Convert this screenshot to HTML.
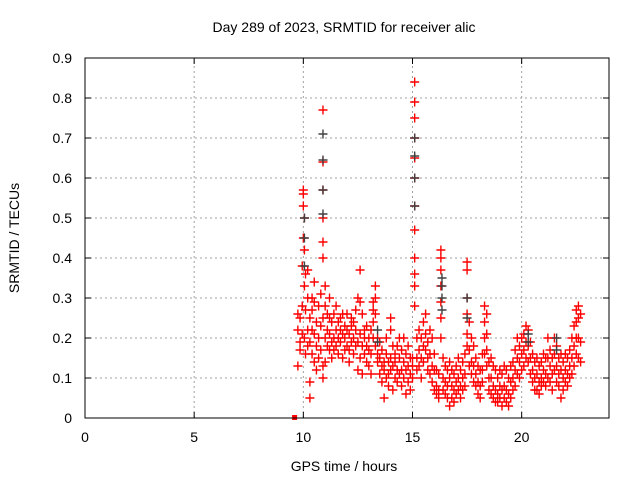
<!DOCTYPE html>
<html><head><meta charset="utf-8"><style>
body{margin:0;background:#fff}
svg text{font-family:"Liberation Sans",sans-serif;font-size:14px;fill:#000}
</style></head><body>
<svg id="chart" width="640" height="480" xmlns="http://www.w3.org/2000/svg">
<rect width="640" height="480" fill="#fff"/>
<text x="344" y="32" text-anchor="middle">Day 289 of 2023, SRMTID for receiver alic</text>
<text x="344" y="471" text-anchor="middle">GPS time / hours</text>
<text transform="translate(19,238) rotate(-90)" text-anchor="middle">SRMTID / TECUs</text>
<g id="grid"></g>
<g id="axes"></g>
<g id="points"></g>
<rect x="85" y="58" width="524" height="360" fill="none" stroke="#000" stroke-width="1"/>
</svg>
<script>
const xTicks=[0,5,10,15,20];
const yTicks=[0,0.1,0.2,0.3,0.4,0.5,0.6,0.7,0.8,0.9];
const yTickLabels=["0","0.1","0.2","0.3","0.4","0.5","0.6","0.7","0.8","0.9"];
const redTimes=[9.75,9.85,9.95,10.0,10.05,10.1,10.2,10.3,10.4,10.5,10.6,10.7,10.8,10.9,11.0,11.1,11.2,11.3,11.4,11.5,11.6,11.7,11.8,11.9,12.0,12.1,12.2,12.3,12.4,12.5,12.6,12.7,12.8,12.9,13.0,13.1,13.2,13.3,13.4,13.5,13.6,13.7,13.8,13.9,14.0,14.1,14.2,14.3,14.4,14.5,14.6,14.7,14.8,14.9,15.0,15.1,15.2,15.3,15.4,15.5,15.6,15.7,15.8,15.9,16.0,16.1,16.2,16.3,16.4,16.5,16.6,16.7,16.8,16.9,17.0,17.1,17.2,17.3,17.4,17.5,17.6,17.7,17.8,17.9,18.0,18.1,18.2,18.3,18.4,18.5,18.6,18.7,18.8,18.9,19.0,19.1,19.2,19.3,19.4,19.5,19.6,19.7,19.8,19.9,20.0,20.1,20.2,20.3,20.4,20.5,20.6,20.7,20.8,20.9,21.0,21.1,21.2,21.3,21.4,21.5,21.6,21.7,21.8,21.9,22.0,22.1,22.2,22.3,22.4,22.5,22.6,22.7];
const redValues=[[0.13,0.22,0.26],[0.17,0.25,0.19],[0.28,0.38,0.21],[0.45,0.53,0.57,0.56],[0.5,0.42,0.33,0.2],[0.36,0.27,0.16],[0.3,0.22,0.18,0.37],[0.25,0.19,0.09,0.05],[0.3,0.22,0.16,0.27],[0.21,0.14,0.29,0.34],[0.18,0.24,0.12],[0.2,0.28,0.15],[0.23,0.17,0.31],[0.77,0.64,0.57,0.5,0.44,0.4,0.25,0.13,0.1],[0.2,0.28,0.14,0.33],[0.22,0.18,0.26],[0.3,0.17,0.21,0.25],[0.19,0.24,0.15],[0.26,0.2,0.17],[0.28,0.22,0.18],[0.24,0.16,0.2],[0.25,0.19,0.22],[0.21,0.15,0.26],[0.2,0.23,0.17],[0.26,0.18,0.22],[0.17,0.21,0.14],[0.25,0.19,0.23],[0.2,0.16,0.24],[0.22,0.27,0.18],[0.3,0.19,0.12],[0.37,0.29,0.21,0.15],[0.26,0.18,0.11],[0.22,0.16,0.2],[0.18,0.14,0.23],[0.2,0.13,0.17],[0.16,0.11,0.22],[0.27,0.29,0.24,0.2],[0.33,0.3,0.26,0.18],[0.2,0.14,0.16],[0.15,0.11,0.19],[0.13,0.09,0.17],[0.14,0.05,0.12],[0.2,0.16,0.1],[0.14,0.11,0.08],[0.25,0.22,0.15,0.12],[0.18,0.13,0.07],[0.14,0.1,0.16],[0.18,0.12,0.09],[0.2,0.15,0.11],[0.17,0.12,0.08],[0.2,0.14,0.1],[0.16,0.12,0.06],[0.18,0.13,0.09],[0.15,0.11,0.07],[0.15,0.1,0.13],[0.84,0.79,0.75,0.7,0.65,0.6,0.53,0.47,0.4,0.36,0.33,0.28],[0.2,0.15,0.12],[0.22,0.17,0.13],[0.2,0.15,0.1],[0.24,0.18,0.14],[0.26,0.21,0.17],[0.19,0.15,0.12],[0.22,0.16,0.11],[0.2,0.13,0.09],[0.16,0.12,0.07],[0.12,0.08,0.06],[0.11,0.07,0.05],[0.42,0.4,0.37,0.33,0.29,0.25,0.2],[0.15,0.1,0.07],[0.13,0.09,0.06],[0.12,0.08,0.05],[0.14,0.1,0.03],[0.12,0.08,0.05],[0.11,0.07,0.04],[0.13,0.09,0.06],[0.15,0.1,0.07],[0.12,0.08,0.05],[0.14,0.1,0.07],[0.16,0.11,0.08],[0.39,0.37,0.3,0.26,0.21,0.18],[0.24,0.17,0.13],[0.2,0.14,0.11],[0.18,0.13,0.09],[0.15,0.11,0.08],[0.13,0.09,0.06],[0.12,0.08,0.05],[0.16,0.12,0.09],[0.28,0.24,0.2,0.16],[0.26,0.21,0.17,0.13],[0.14,0.1,0.07],[0.15,0.1,0.06],[0.13,0.08,0.05],[0.12,0.07,0.04],[0.1,0.06,0.04],[0.12,0.08,0.05],[0.11,0.07,0.03],[0.13,0.08,0.05],[0.12,0.07,0.04],[0.1,0.06,0.03],[0.13,0.09,0.05],[0.14,0.1,0.07],[0.17,0.12,0.08],[0.2,0.15,0.11],[0.18,0.14,0.1],[0.2,0.16,0.12],[0.21,0.17,0.13],[0.23,0.19,0.15],[0.22,0.18,0.14],[0.19,0.15,0.11],[0.16,0.12,0.09],[0.14,0.1,0.07],[0.15,0.11,0.07],[0.13,0.09,0.06],[0.14,0.1,0.08],[0.16,0.12,0.09],[0.15,0.11,0.08],[0.2,0.15,0.1],[0.17,0.13,0.09],[0.15,0.11,0.07],[0.2,0.16,0.12],[0.18,0.13,0.09],[0.15,0.11,0.08],[0.16,0.12,0.05],[0.14,0.1,0.07],[0.16,0.12,0.09],[0.15,0.11,0.08],[0.17,0.13,0.1],[0.2,0.15,0.11],[0.23,0.18,0.13],[0.27,0.24,0.2,0.16],[0.28,0.25,0.2,0.15],[0.26,0.19,0.14]];
const grayTimes=[10.05,10.9,13.4,15.1,16.35,17.5,20.3,21.6];
const grayValues=[[0.5,0.45,0.38],[0.71,0.645,0.57,0.51],[0.22,0.19],[0.7,0.655,0.6,0.53],[0.35,0.33,0.3,0.27],[0.3,0.25],[0.21,0.19],[0.2,0.17]];
const markerTime=[9.6];
const markerValue=[0];

const X0=85,X1=609,Y0=418,Y1=58,XMAX=24,YMAX=0.9;
const xs=t=>X0+(X1-X0)*t/XMAX;
const ys=v=>Y0-(Y0-Y1)*v/YMAX;
const NS="http://www.w3.org/2000/svg";
function mk(tag,attrs,parent){const e=document.createElementNS(NS,tag);for(const k in attrs)e.setAttribute(k,attrs[k]);parent.appendChild(e);return e;}
const grid=document.getElementById('grid'),axes=document.getElementById('axes'),pts=document.getElementById('points');
xTicks.forEach(t=>{
  const x=xs(t);
  if(t>0){const g=mk('line',{x1:x,y1:Y0,x2:x,y2:Y1,stroke:'#a0a0a0','stroke-dasharray':'2,3'},grid);
  
  }
  mk('line',{x1:x,y1:Y0,x2:x,y2:Y0-6,stroke:'#000'},axes);
  mk('line',{x1:x,y1:Y1,x2:x,y2:Y1+6,stroke:'#000'},axes);
  const tx=mk('text',{x:x,y:Y0+24,'text-anchor':'middle'},axes);tx.textContent=t;
  
  
});
yTicks.forEach((v,i)=>{
  const y=ys(v);
  if(v>0&&v<YMAX){const g=mk('line',{x1:X0,y1:y,x2:X1,y2:y,stroke:'#a0a0a0','stroke-dasharray':'2,3'},grid);
  
  }
  mk('line',{x1:X0,y1:y,x2:X0+6,y2:y,stroke:'#000'},axes);
  mk('line',{x1:X1,y1:y,x2:X1-6,y2:y,stroke:'#000'},axes);
  const tx=mk('text',{x:X0-13,y:y+5,'text-anchor':'end'},axes);tx.textContent=yTickLabels[i];
  
  
});
function plus(t,v,color,name){
  const x=xs(t),y=ys(v);
  const p=mk('path',{d:`M${x-4.5},${y}H${x+4.5}M${x},${y-4.5}V${y+4.5}`,stroke:color,'stroke-width':1.4,fill:'none'},pts);
  
  
}
redTimes.forEach((t,i)=>redValues[i].forEach(v=>plus(t,v,'#ff0000','red-point')));
grayTimes.forEach((t,i)=>grayValues[i].forEach(v=>plus(t,v,'#404040','gray-point')));
markerTime.forEach((t,i)=>{
  const r=mk('rect',{x:xs(t)-2.5,y:ys(markerValue[i])-3,width:5,height:5,fill:'#ff0000'},pts);
  
  
});
</script>
</body></html>
